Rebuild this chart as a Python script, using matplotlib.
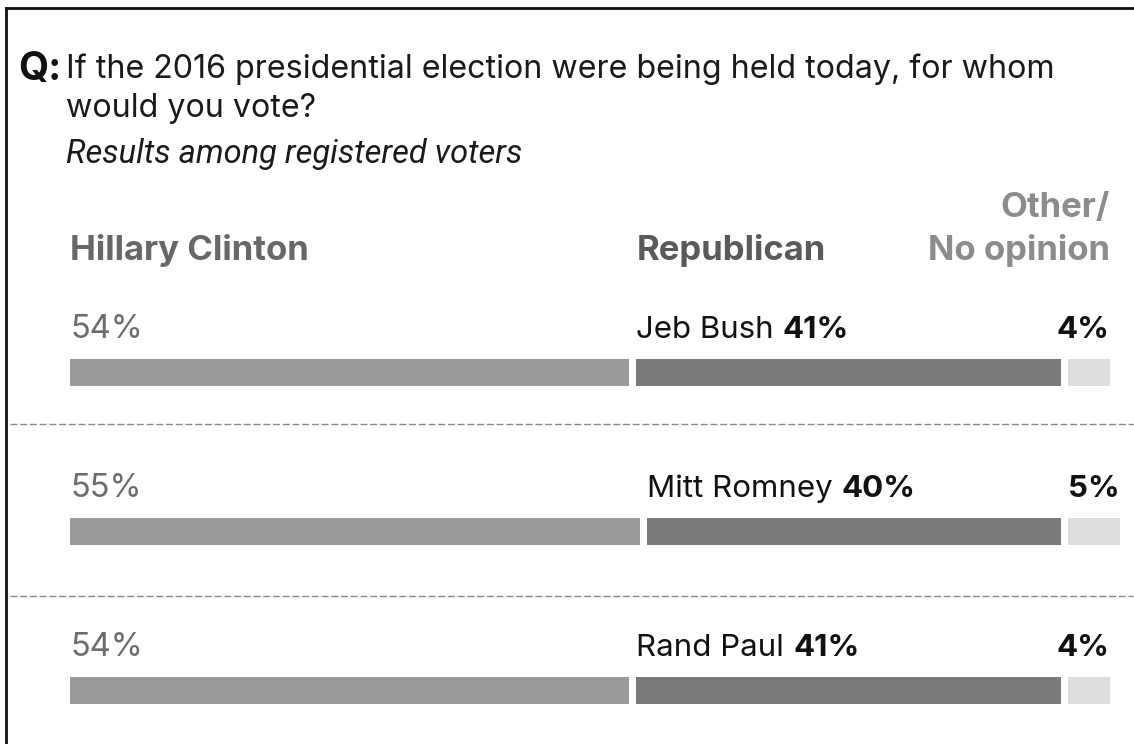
import matplotlib
matplotlib.use('Agg')
import matplotlib.pyplot as plt

# Poll results, registered voters
opponents = ['Jeb Bush', 'Mitt Romney', 'Rand Paul']
clinton = [54, 55, 54]
republican = [41, 40, 41]
other = [4, 5, 4]

plt.rcParams['font.family'] = ['Inter', 'DejaVu Sans']

fig = plt.figure(figsize=(11.34, 7.44), dpi=100)
fig.patch.set_facecolor('white')

# axes spans the whole canvas; x in percentage points, y in pixels from the top
ax = fig.add_axes([0, 0, 1, 1])
px_per_pct = 10.36
ax.set_xlim(-70 / px_per_pct, (1134 - 70) / px_per_pct)
ax.set_ylim(744, 0)
ax.axis('off')

gap = 0.68
bar_h = 27
row_y = [372, 531, 690]

c_clinton = '#9a9a9a'
c_rep = '#7a7a7a'
c_other = '#dddddd'

for i in range(len(opponents)):
    y = row_y[i]
    rep_left = clinton[i] + gap
    oth_left = rep_left + republican[i] + gap
    ax.barh(y, clinton[i], left=0, height=bar_h, color=c_clinton)
    ax.barh(y, republican[i], left=rep_left, height=bar_h, color=c_rep)
    ax.barh(y, other[i], left=oth_left, height=bar_h, color=c_other)

    ty = y - 34
    ax.text(0, ty, '%d%%' % clinton[i], fontsize=23.5, color='#6c6c6c',
            va='baseline', ha='left')
    t1 = ax.text(rep_left, ty, opponents[i] + ' ', fontsize=22.5,
                 color='#111111', va='baseline', ha='left')
    ax.annotate('%d%%' % republican[i], xy=(1, 0), xycoords=t1,
                fontsize=22.5, fontweight='bold', color='#111111',
                va='bottom', ha='left')
    ax.text(oth_left + other[i], ty, '%d%%' % other[i], fontsize=22.5,
            fontweight='bold', color='#111111', va='baseline', ha='right')

# dashed separators between rows
for y in [424, 596]:
    ax.axhline(y, xmin=10 / 1134, xmax=1, color='#8a8a8a', lw=1,
               linestyle=(0, (5, 2)))

# column headers
hy = 260
right_edge = clinton[0] + republican[0] + other[0] + 2 * gap
ax.text(0, hy, 'Hillary Clinton', fontsize=25, fontweight='bold',
        color='#676767', va='baseline')
ax.text(clinton[0] + gap, hy, 'Republican', fontsize=25, fontweight='bold',
        color='#5a5a5a', va='baseline')
ax.text(right_edge, hy - 43, 'Other/', fontsize=25, fontweight='bold',
        color='#8c8c8c', va='baseline', ha='right')
ax.text(right_edge, hy, 'No opinion', fontsize=25, fontweight='bold',
        color='#8c8c8c', va='baseline', ha='right')

# question
W, H = 1134.0, 744.0
fig.text(18 / W, 1 - 80 / H, 'Q:', fontsize=28, fontweight='bold',
         color='#111111', va='baseline')
fig.text(66 / W, 1 - 78 / H,
         'If the 2016 presidential election were being held today, for whom',
         fontsize=23.2, color='#1a1a1a', va='baseline')
fig.text(66 / W, 1 - 117 / H, 'would you vote?', fontsize=23.2,
         color='#1a1a1a', va='baseline')
fig.text(66 / W, 1 - 163 / H, 'Results among registered voters',
         fontsize=23.5, style='italic', family='Roboto', color='#1a1a1a',
         va='baseline')

# frame: left and top edges
fig.add_artist(plt.Line2D([5.5 / W, 5.5 / W], [0, 1 - 8 / H],
                          color='#111111', lw=2, transform=fig.transFigure))
fig.add_artist(plt.Line2D([5.5 / W, 1], [1 - 8 / H, 1 - 8 / H],
                          color='#111111', lw=2, transform=fig.transFigure))

fig.savefig('out.png', dpi=100, facecolor='white')
